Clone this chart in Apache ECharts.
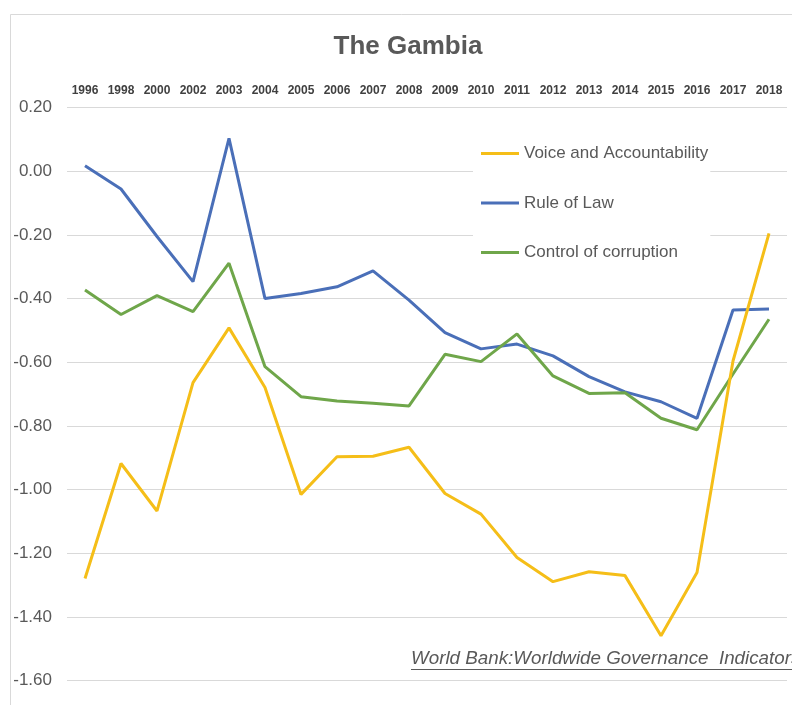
<!DOCTYPE html>
<html>
<head>
<meta charset="utf-8">
<title>The Gambia – Worldwide Governance Indicators</title>
<script src="https://cdn.jsdelivr.net/npm/echarts@6/dist/echarts.min.js"></script>
<style>
  html, body { margin: 0; padding: 0; background: #ffffff; }
  #chart { width: 792px; height: 705px; }
</style>
</head>
<body>
<div id="chart"></div>
<script>
// Survey years (the indicators were biennial until 2002)
const years = ['1996', '1998', '2000', '2002', '2003', '2004', '2005', '2006', '2007', '2008',
               '2009', '2010', '2011', '2012', '2013', '2014', '2015', '2016', '2017', '2018'];

// Governance estimates for The Gambia
const voiceAccountability = [-1.279, -0.918, -1.067, -0.664, -0.492, -0.679, -1.015, -0.897, -0.895, -0.867,
                             -1.012, -1.077, -1.213, -1.289, -1.258, -1.270, -1.459, -1.260, -0.596, -0.195];
const ruleOfLaw = [0.017, -0.056, -0.205, -0.347, 0.103, -0.400, -0.384, -0.363, -0.313, -0.405,
                   -0.507, -0.558, -0.543, -0.580, -0.645, -0.693, -0.724, -0.776, -0.436, -0.433];
const controlOfCorruption = [-0.373, -0.450, -0.391, -0.441, -0.289, -0.614, -0.708, -0.722, -0.729, -0.737,
                             -0.575, -0.598, -0.511, -0.643, -0.698, -0.696, -0.776, -0.812, -0.637, -0.465];

// Value axis range
const yMin = -1.6;
const yMax = 0.2;
const yStep = 0.2;

const FONT = '"Liberation Sans", Arial, sans-serif';
const GREY_TEXT = '#595959';

const chart = echarts.init(document.getElementById('chart'), null, { renderer: 'canvas' });

function lineSeries(name, data, color, z) {
  return {
    name: name,
    type: 'line',
    data: data,
    symbol: 'none',
    smooth: false,
    z: z,
    lineStyle: { color: color, width: 3 },
    itemStyle: { color: color },
    emphasis: { disabled: true }
  };
}

chart.setOption({
  animation: false,
  backgroundColor: '#ffffff',
  textStyle: { fontFamily: FONT },
  grid: { left: 67, right: 5, top: 107.5, bottom: 24.3, containLabel: false },
  xAxis: {
    type: 'category',
    position: 'top',
    data: years,
    boundaryGap: true,
    axisLine: { show: false },
    axisTick: { show: false },
    splitLine: { show: false },
    axisLabel: {
      interval: 0,
      margin: 17,
      verticalAlign: 'middle',
      fontSize: 12,
      fontWeight: 'bold',
      color: '#404040',
      fontFamily: FONT
    }
  },
  yAxis: {
    type: 'value',
    min: yMin,
    max: yMax,
    interval: yStep,
    axisLine: { show: false },
    axisTick: { show: false },
    splitLine: { show: true, lineStyle: { color: '#d9d9d9', width: 1 } },
    axisLabel: {
      margin: 15,
      fontSize: 17,
      color: GREY_TEXT,
      fontFamily: FONT,
      formatter: function (v) { return v.toFixed(2); }
    }
  },
  legend: {
    orient: 'vertical',
    left: 473,
    top: 130,
    padding: [15, 2, 15, 8],
    itemGap: 32.5,
    itemWidth: 38,
    itemHeight: 3,
    icon: 'rect',
    backgroundColor: '#ffffff',
    selectedMode: false,
    textStyle: { fontSize: 17, color: GREY_TEXT, fontFamily: FONT },
    data: ['Voice and Accountability', 'Rule of Law', 'Control of corruption']
  },
  series: [
    lineSeries('Voice and Accountability', voiceAccountability, '#F5BE18', 4),
    lineSeries('Rule of Law', ruleOfLaw, '#4A6FB8', 3),
    lineSeries('Control of corruption', controlOfCorruption, '#6FA64A', 3)
  ],
  graphic: [
    {
      type: 'rect',
      z: 0,
      silent: true,
      shape: { x: 10.5, y: 14.5, width: 800, height: 720 },
      style: { fill: 'none', stroke: '#d9d9d9', lineWidth: 1 }
    },
    {
      type: 'text',
      x: 408,
      y: 47,
      silent: true,
      style: {
        text: 'The Gambia',
        align: 'center',
        verticalAlign: 'middle',
        fontSize: 26,
        fontWeight: 'bold',
        fontFamily: FONT,
        fill: GREY_TEXT
      }
    },
    {
      type: 'text',
      x: 411,
      y: 659,
      z: 10,
      silent: true,
      style: {
        text: 'World Bank:Worldwide Governance  Indicators',
        align: 'left',
        verticalAlign: 'middle',
        fontSize: 18.8,
        fontStyle: 'italic',
        fontFamily: FONT,
        fill: GREY_TEXT
      }
    },
    {
      type: 'line',
      z: 10,
      silent: true,
      shape: { x1: 411, y1: 669.5, x2: 800, y2: 669.5 },
      style: { stroke: GREY_TEXT, lineWidth: 1 }
    }
  ]
});
</script>
</body>
</html>
